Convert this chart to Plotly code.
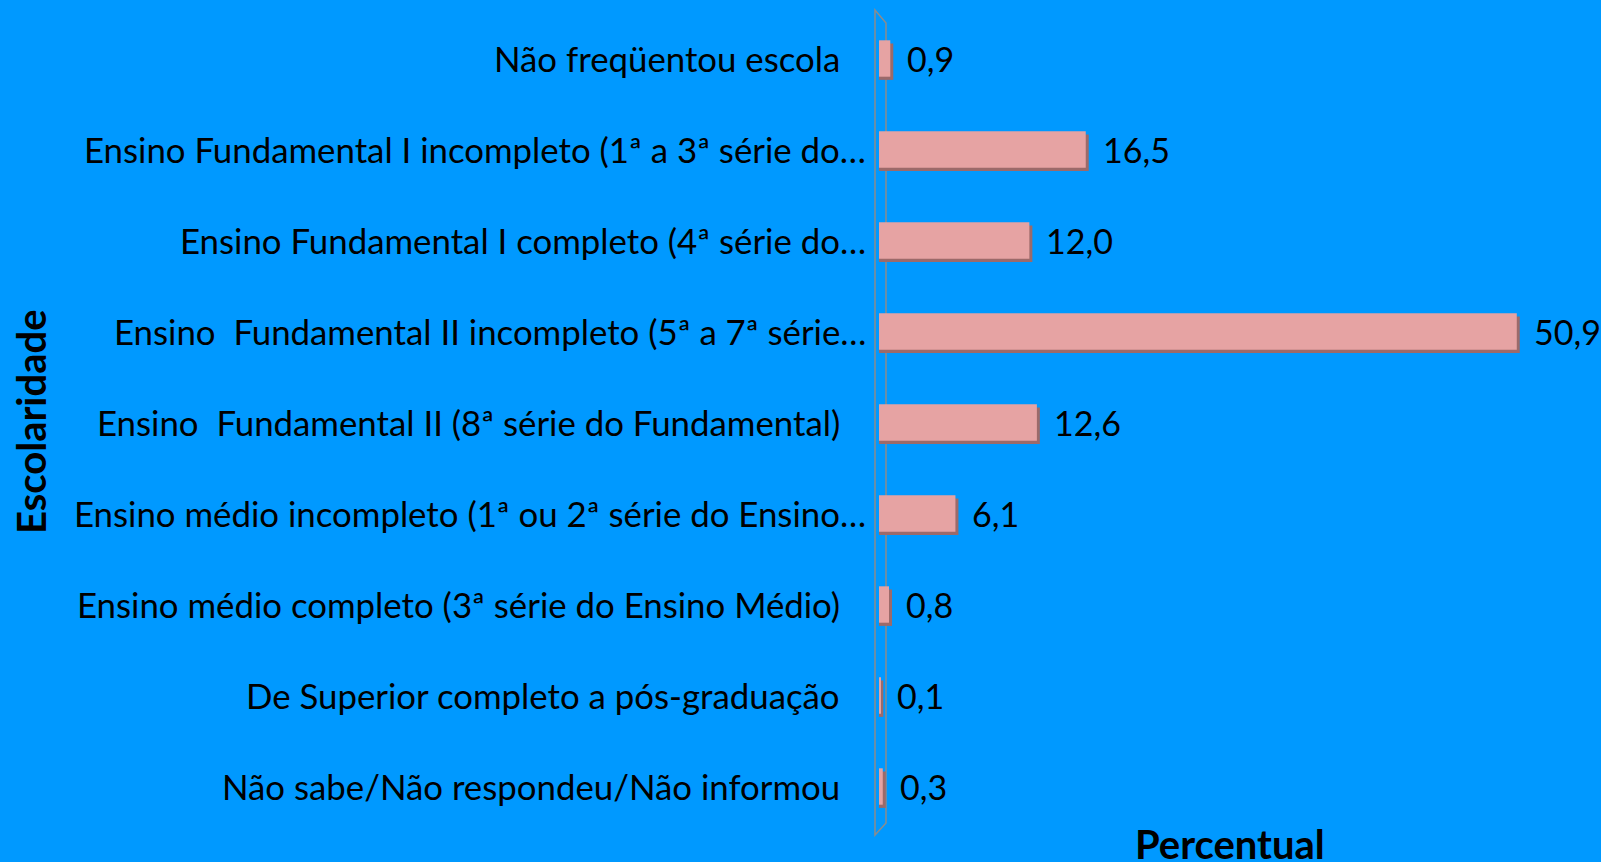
import plotly.graph_objects as go

categories = [
    "Não freqüentou escola",
    "Ensino Fundamental I incompleto (1ª a 3ª série do…",
    "Ensino Fundamental I completo (4ª série do…",
    "Ensino  Fundamental II incompleto (5ª a 7ª série…",
    "Ensino  Fundamental II (8ª série do Fundamental)",
    "Ensino médio incompleto (1ª ou 2ª série do Ensino…",
    "Ensino médio completo (3ª série do Ensino Médio)",
    "De Superior completo a pós-graduação",
    "Não sabe/Não respondeu/Não informou",
]
values = [0.9, 16.5, 12.0, 50.9, 12.6, 6.1, 0.8, 0.1, 0.3]
x_title = "Percentual"
y_title = "Escolaridade"

W, H = 1601, 862
L, R, T, B = 879, 41, 13, 30
plot_w = W - L - R
px_per_unit = 12.53
x_max = plot_w / px_per_unit

BG = "#0099FF"
BAR = "#E6A3A3"
SHADOW = "#9C6A6A"
FONT = "Lato"
FS_LABEL = 34.8
FS_VALUE = 34
FS_TITLE = 40

ypos = list(range(len(categories)))

fig = go.Figure()
# shadow (3D depth) bars
fig.add_trace(go.Bar(
    y=ypos, x=[v + 3 / px_per_unit for v in values], orientation="h",
    width=0.4, offset=-0.2 + 0.035, marker=dict(color=SHADOW, line=dict(width=0)),
    hoverinfo="skip", showlegend=False,
))
fig.add_trace(go.Bar(
    y=ypos, x=values, orientation="h",
    width=0.4, offset=-0.2, marker=dict(color=BAR, line=dict(width=0)),
    showlegend=False,
))

annotations = []
for i, (c, v) in enumerate(zip(categories, values)):
    right_px = 868 if c.endswith("…") else 842
    annotations.append(dict(
        x=(right_px - L) / plot_w, xref="paper", y=i, yref="y",
        text=c.replace("  ", "\u00a0 "), xanchor="right", yanchor="middle",
        showarrow=False, font=dict(family=FONT, size=FS_LABEL, color="black"),
    ))
    annotations.append(dict(
        x=v + 3 / px_per_unit, xref="x", y=i, yref="y",
        text=f"{v:.1f}".replace(".", ","), xanchor="left", yanchor="middle",
        xshift=12, showarrow=False, font=dict(family=FONT, size=FS_VALUE, color="black"),
    ))

plot_h = H - T - B
annotations.append(dict(
    x=(1230 - L) / plot_w, xref="paper", y=(H - B - 844) / plot_h, yref="paper",
    text=f"<b>{x_title}</b>", xanchor="center", yanchor="middle", showarrow=False,
    font=dict(family=FONT, size=FS_TITLE, color="black"),
))
annotations.append(dict(
    x=(31 - L) / plot_w, xref="paper", y=(H - B - 422) / plot_h, yref="paper",
    text=f"<b>{y_title}</b>", xanchor="center", yanchor="middle", showarrow=False,
    textangle=-90, font=dict(family=FONT, size=FS_TITLE, color="black"),
))

def px_x(p):
    return (p - L) / plot_w

def px_y(p):
    return (H - B - p) / plot_h

wall = (f"M {px_x(875)},{px_y(835)} L {px_x(875)},{px_y(10)} "
        f"L {px_x(886)},{px_y(23)} L {px_x(886)},{px_y(823)} Z")

fig.update_layout(
    width=W, height=H,
    margin=dict(l=L, r=R, t=T, b=B),
    paper_bgcolor=BG, plot_bgcolor=BG,
    barmode="overlay",
    xaxis=dict(range=[0, x_max], showgrid=False, zeroline=False,
               showticklabels=False, showline=False, ticks=""),
    yaxis=dict(range=[len(categories) - 0.5, -0.5], showgrid=False, zeroline=False,
               showticklabels=False, showline=False, ticks=""),
    annotations=annotations,
    shapes=[dict(type="path", path=wall, xref="paper", yref="paper",
                 line=dict(color="#8C8C8C", width=1.5), layer="below")],
    font=dict(family=FONT, size=FS_LABEL, color="black"),
)

fig.write_html(
    "out.html",
    config={"displayModeBar": False},
    post_script="document.body.style.margin='0';document.body.style.background='#0099FF';",
)
